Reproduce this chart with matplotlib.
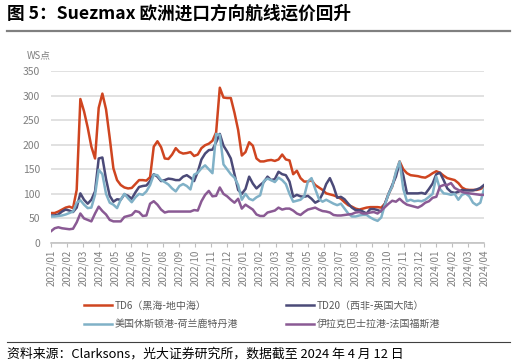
import numpy as np
import matplotlib
matplotlib.use("Agg")
import matplotlib.pyplot as plt
from matplotlib.lines import Line2D

plt.rcParams['font.family'] = ['Noto Sans CJK SC', 'DejaVu Sans']

# weekly data, 2022-01-07 .. 2024-04-12 (WS points)
td6 = [61, 61, 64, 68, 72, 74, 71, 108, 293, 268, 235, 196, 172, 275, 304, 272, 214, 152, 128, 118,
       113, 111, 112, 120, 128, 128, 127, 134, 196, 207, 195, 172, 171, 180, 193, 185, 182, 183, 185, 177,
       180, 193, 199, 202, 208, 225, 316, 296, 295, 295, 265, 230, 178, 185, 205, 198, 172, 166, 166, 168,
       169, 167, 170, 180, 170, 168, 140, 147, 132, 125, 125, 128, 118, 113, 108, 101, 99, 97, 94, 90,
       83, 77, 74, 70, 68, 70, 72, 73, 73, 73, 72, 80, 100, 115, 142, 166, 150, 142, 138, 137,
       136, 134, 133, 137, 142, 146, 143, 137, 132, 130, 128, 122, 113, 109, 108, 108, 108, 110, 114]
td20 = [56, 56, 58, 64, 68, 66, 63, 72, 101, 88, 80, 88, 105, 172, 174, 130, 96, 84, 89, 88,
        99, 96, 90, 103, 114, 116, 117, 126, 140, 135, 126, 128, 131, 130, 128, 128, 135, 138, 133, 126,
        145, 170, 182, 189, 190, 205, 222, 198, 186, 172, 140, 108, 100, 110, 135, 121, 111, 118, 124, 135,
        128, 130, 145, 140, 138, 125, 94, 98, 95, 94, 96, 90, 82, 86, 100, 120, 132, 115, 92, 94,
        89, 80, 72, 67, 67, 64, 60, 69, 69, 67, 64, 80, 100, 118, 135, 163, 138, 101, 101, 101,
        101, 102, 100, 110, 121, 140, 143, 128, 111, 104, 102, 104, 108, 107, 107, 107, 109, 112, 118]
houston = [54, 54, 55, 56, 58, 61, 64, 82, 87, 78, 71, 72, 98, 149, 140, 100, 82, 78, 71, 88,
           100, 91, 83, 93, 100, 98, 105, 118, 139, 138, 128, 124, 119, 111, 105, 116, 120, 116, 109, 139,
           143, 152, 158, 150, 142, 222, 220, 160, 150, 140, 133, 118, 88, 100, 90, 87, 93, 97, 126, 131,
           128, 124, 133, 128, 120, 100, 84, 86, 88, 95, 125, 132, 110, 90, 84, 88, 84, 80, 77, 80,
           70, 60, 54, 54, 56, 57, 57, 52, 48, 45, 52, 78, 100, 115, 145, 166, 110, 85, 88, 85,
           86, 85, 88, 94, 100, 135, 110, 101, 100, 98, 100, 88, 98, 101, 95, 82, 77, 82, 110]
basrah = [24, 30, 32, 30, 29, 28, 29, 42, 60, 50, 47, 44, 60, 74, 65, 58, 47, 44, 44, 44,
          53, 55, 57, 65, 63, 55, 56, 80, 85, 78, 68, 62, 64, 64, 64, 64, 64, 64, 64, 67,
          66, 85, 98, 106, 95, 96, 113, 100, 95, 88, 82, 90, 70, 78, 73, 68, 58, 55, 55, 62,
          64, 66, 72, 68, 70, 70, 66, 60, 57, 63, 68, 70, 72, 68, 65, 64, 62, 57, 56, 56,
          57, 58, 59, 62, 63, 60, 60, 62, 63, 60, 66, 73, 80, 86, 84, 90, 83, 78, 76, 74,
          72, 76, 82, 85, 92, 94, 115, 118, 118, 122, 112, 108, 104, 102, 101, 100, 99, 98, 98]

labels = ['TD6（黑海-地中海）', 'TD20（西非-英国大陆）',
          '美国休斯顿港-荷兰鹿特丹港', '伊拉克巴士拉港-法国福斯港']
colors = ['#cf4520', '#4b4a78', '#80b1c7', '#8a5a94']

months = []
for y in (2022, 2023, 2024):
    for m in range(1, 13):
        months.append(f'{y}/{m:02d}')
months = months[:28]

weeks = np.arange(len(td6))
tick_pos = np.linspace(0, weeks[-1], len(months))

fig = plt.figure(figsize=(5.16, 3.63), dpi=100)
ax = fig.add_axes([51/516, 1-243/363, 433/516, 172/363])

series = [td6, td20, houston, basrah]
lines = []
for s, c, lab in zip(series, colors, labels):
    ln, = ax.plot(weeks, s, color=c, lw=1.8, label=lab, solid_joinstyle='round')
    lines.append(ln)

ax.set_xlim(0, weeks[-1])
ax.set_ylim(0, 350)
ax.set_yticks(range(0, 351, 50))
ax.set_xticks(tick_pos)
ax.set_xticklabels(months, rotation=90)
ax.yaxis.grid(True, color='#d9d9d9', lw=1.1)
ax.set_axisbelow(True)
for sp in ('top', 'right', 'left'):
    ax.spines[sp].set_visible(False)
ax.spines['bottom'].set_color('#bfbfbf')
ax.spines['bottom'].set_linewidth(1.1)
ax.tick_params(axis='y', length=0, labelsize=7.5, labelcolor='#7f7f7f', pad=8)
ax.tick_params(axis='x', length=3, color='#bfbfbf', labelsize=7, labelcolor='#7f7f7f', pad=2)

fig.text(27/516, 1-55/363, 'WS点', fontsize=7, color='#7f7f7f', va='center')

fig.legend([lines[0], lines[2], lines[1], lines[3]],
           [labels[0], labels[2], labels[1], labels[3]],
           loc='center', bbox_to_anchor=(262/516, 1-315/363), ncol=2, frameon=False,
           fontsize=7.2, handlelength=2.8, handletextpad=0.3, columnspacing=4.8,
           labelspacing=0.85, labelcolor='#595959')

fig.text(7/516, 1-14/363, '图 5：Suezmax 欧洲进口方向航线运价回升', fontsize=12.7,
         fontweight='bold', va='center', ha='left', color='#000000')
fig.add_artist(Line2D([7/516, 510/516], [1-31/363, 1-31/363], color='#808080', lw=1.6))
fig.add_artist(Line2D([7/516, 510/516], [1-342/363, 1-342/363], color='#404040', lw=0.8))
fig.text(7/516, 1-354/363, '资料来源：Clarksons，光大证券研究所，数据截至 2024 年 4 月 12 日',
         fontsize=9.3, va='center', ha='left', color='#000000')

fig.savefig('out.png', dpi=100)
